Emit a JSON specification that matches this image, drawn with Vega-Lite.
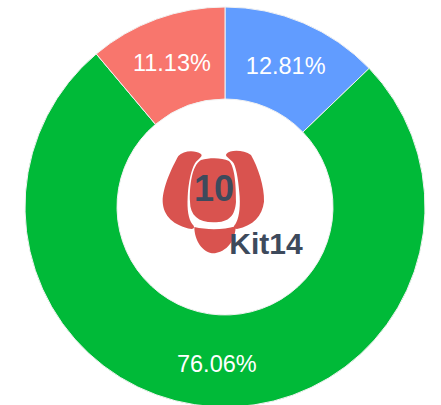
{
  "$schema": "https://vega.github.io/schema/vega-lite/v6.json",
  "width": 432,
  "height": 396,
  "padding": {"left": 9, "top": 9, "right": 0, "bottom": 0},
  "autosize": {"type": "none"},
  "background": "white",
  "view": {"stroke": null},
  "datasets": {
    "slices": [
      {"group": "A", "share": 12.81, "rank": 1, "label": "12.81%"},
      {"group": "B", "share": 76.06, "rank": 2, "label": "76.06%"},
      {"group": "C", "share": 11.13, "rank": 3, "label": "11.13%"}
    ]
  },
  "layer": [
    {
      "data": {"name": "slices"},
      "mark": {"type": "arc", "innerRadius": 108, "outerRadius": 200, "stroke": "#f2f2f2", "strokeWidth": 1},
      "encoding": {
        "theta": {"field": "share", "type": "quantitative", "stack": true},
        "order": {"field": "rank", "type": "ordinal"},
        "color": {"field": "group", "type": "nominal", "legend": null, "scale": {"domain": ["A", "B", "C"], "range": ["#619CFF", "#00BA38", "#F8766D"]}}
      }
    },
    {
      "data": {"name": "slices"},
      "mark": {"type": "text", "radius": 155, "dy": 3, "font": "Liberation Sans", "fontSize": 23.5, "color": "white", "baseline": "middle", "align": "center"},
      "encoding": {
        "theta": {"field": "share", "type": "quantitative", "stack": true},
        "order": {"field": "rank", "type": "ordinal"},
        "text": {"field": "label", "type": "nominal"}
      }
    },
    {
      "data": {"values": [{"part": "logo"}]},
      "mark": {
        "type": "point",
        "filled": true,
        "opacity": 1,
        "color": "#d9534f",
        "size": 0.4444,
        "shape": "M-72,-159 C-90,-172 -125,-170 -140,-153 C-158,-121 -187,-61 -187,-16 C-185,26 -155,56 -100,66 C-92,66 -90,59 -98,52 C-110,34 -114,9 -112,-31 C-110,-71 -102,-111 -90,-131 C-80,-146 -65,-151 -72,-159 Z M4,-159 C15,-172 55,-172 78,-156 C98,-121 119,-61 117,-16 C112,26 85,56 36,66 C26,66 24,59 31,52 C41,34 46,9 44,-31 C41,-71 36,-111 26,-131 C16,-146 -1,-151 4,-159 Z M-72,-141 C-45,-148 -10,-148 12,-138 C30,-121 33,-61 33,-16 C30,24 15,46 -35,46 C-80,46 -105,24 -105,-16 C-107,-61 -100,-125 -72,-141 Z M-92,60 C-55,69 -5,69 32,58 C32,89 15,131 -30,139 C-67,141 -92,99 -92,60 Z"
      },
      "encoding": {}
    },
    {
      "data": {"values": [{"label": "10"}]},
      "mark": {"type": "text", "font": "Liberation Sans", "fontWeight": "bold", "fontSize": 36, "color": "#3d4a5c", "dx": -11, "dy": -17, "baseline": "middle", "align": "center"},
      "encoding": {"text": {"field": "label", "type": "nominal"}}
    },
    {
      "data": {"values": [{"label": "Kit14"}]},
      "mark": {"type": "text", "font": "Liberation Sans", "fontWeight": "bold", "fontSize": 30, "color": "#3d4a5c", "dx": 41, "dy": 38, "baseline": "middle", "align": "center"},
      "encoding": {"text": {"field": "label", "type": "nominal"}}
    }
  ]
}
